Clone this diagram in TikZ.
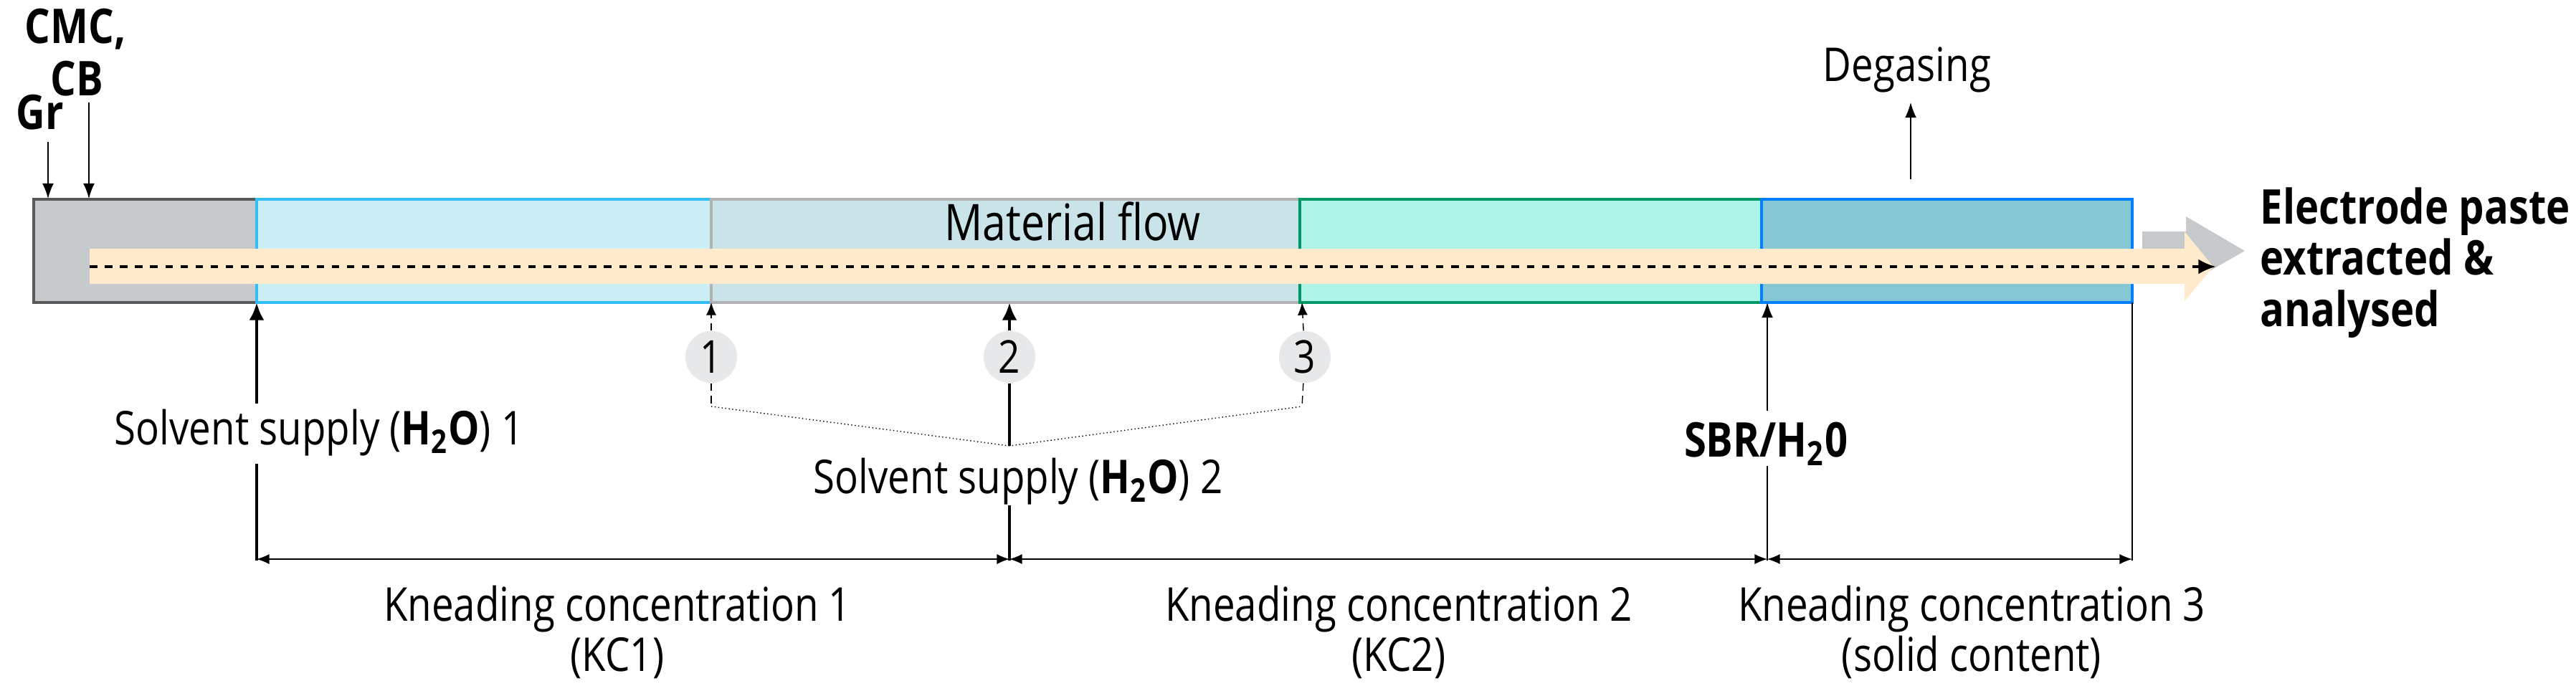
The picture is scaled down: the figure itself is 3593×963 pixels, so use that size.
\documentclass[tikz,border=0pt]{standalone}
\usepackage{fontspec}
\setmainfont{Open Sans}[FakeStretch=0.84]
\usetikzlibrary{arrows.meta,positioning}
\definecolor{feedgray}{HTML}{C6CACD}
\definecolor{kcone}{HTML}{CBEFF5}
\definecolor{kcmid}{HTML}{C9E3E8}
\definecolor{kctwo}{HTML}{AEF4E9}
\definecolor{kcthree}{HTML}{84C6D4}
\definecolor{paste}{HTML}{FFEBCC}
\definecolor{badge}{HTML}{E6E8EA}
\tikzset{
  zone/.style={draw=#1, line width=1.2pt},
  lbl/.style={font=\fontsize{18.5}{19.7}\selectfont, inner sep=0pt},
  blbl/.style={font=\bfseries\fontsize{19}{20.3}\selectfont, inner sep=0pt},
  num/.style={circle, fill=badge, minimum size=0.72cm, inner sep=0pt, font=\fontsize{18}{20}\selectfont},
  feed/.style={-{Latex[length=6pt,width=4.5pt]}, thin},
  bigfeed/.style={-{Latex[length=7pt,width=6pt]}, line width=1.4pt},
  dim/.style={{Latex[length=5pt,width=4pt]}-{Latex[length=5pt,width=4pt]}, thin},
}
\begin{document}
\begin{tikzpicture}[x=0.01cm, y=-0.01cm]
  \useasboundingbox (0,0) rectangle (3593,963);
  % extruder zones
  \fill[feedgray] (47,278) rectangle (358,422);
  \draw[zone=gray!70!black] (358,278) -| (47,422) -- (358,422);
  \filldraw[fill=kcone, zone=cyan!80] (358,278) rectangle (992,422);
  \filldraw[fill=kcmid, zone=gray!60] (992,278) rectangle (1813,422);
  \filldraw[fill=kctwo, zone=teal!80!green] (1813,278) rectangle (2457,422);
  \filldraw[fill=kcthree, zone=blue!50!cyan] (2457,278) rectangle (2974,422);
  \node[font=\fontsize{20}{22}\selectfont, anchor=base, inner sep=0pt] (flow) at (1496,335) {Material flow};
  % outlet arrows
  \fill[feedgray] (2988,323) -- (3049,323) -- (3049,302) -- (3131,350) -- (3049,397) -- (3049,374) -- (2988,374) -- cycle;
  \fill[paste] (125,347) -- (3047,347) -- (3047,323) -- (3087,372) -- (3047,420) -- (3047,396) -- (125,396) -- cycle;
  \coordinate (flowstart) at (125,372);
  \coordinate (flowend) at (3091,372);
  \draw[dashed, line width=1.3pt, -{Latex[length=7pt,width=6pt]}] (flowstart) -- (flowend);
  \node[blbl, anchor=base west, align=left] (out) at (3152,455) {Electrode paste\\extracted \&\\analysed};
  % solid feed
  \node[blbl, anchor=base west] (cmc) at (34,60) {CMC,};
  \node[blbl, anchor=base] (cb) at (107,133) {CB};
  \node[blbl, anchor=base west] (gr) at (22,180) {Gr};
  \coordinate (grin) at (67,277);
  \coordinate (cbin) at (124,277);
  \draw[feed] (67,198) -- (grin);
  \draw[feed] (124,143) -- (cbin);
  % degasing
  \node[lbl, anchor=base] (degas) at (2660,113) {Degasing};
  \coordinate (vent) at (2665,250);
  \draw[feed] (vent) -- (2665,143);
  % solvent supply 1
  \coordinate (s1top) at (358,422);
  \coordinate (s1bot) at (358,782);
  \node[lbl, anchor=base west] (sup1) at (159,620) {Solvent supply (\textbf{H\textsubscript{2}O}) 1};
  \draw[bigfeed] (358,563) -- (s1top);
  \draw[line width=1.4pt] (358,647) -- (s1bot);
  % dosing positions
  \node[num] (p1) at (992,498) {1};
  \node[num] (p2) at (1408,498) {2};
  \node[num] (p3) at (1820,498) {3};
  \coordinate (join) at (1408,622);
  \draw[densely dashed, thin, -{Latex[length=5pt,width=4pt]}] (p1) -- (992,422);
  \draw[densely dashed, thin, -{Latex[length=5pt,width=4pt]}] (p3) -- (1816,422);
  \draw[bigfeed] (p2) -- (1408,422);
  \draw[densely dashed, thin] (p1) -- (992,567);
  \draw[densely dashed, thin] (p3) -- (1816,567);
  \draw[densely dotted, thin] (992,567) -- (join) -- (1816,567);
  \draw[line width=1.4pt] (p2) -- (join);
  \node[lbl, anchor=base] (sup2) at (1420,688) {Solvent supply (\textbf{H\textsubscript{2}O}) 2};
  \draw[line width=1.4pt] (1408,705) -- (1408,782);
  % binder
  \node[blbl, anchor=base] (sbr) at (2463,637) {SBR/H\textsubscript{2}0};
  \coordinate (sbrin) at (2465,422);
  \draw[feed] (2465,573) -- (sbrin);
  \draw[thin] (2465,650) -- (2465,782);
  \draw[thin] (2974,422) -- (2974,782);
  % kneading concentrations
  \coordinate (d0) at (358,780);
  \coordinate (d1) at (1408,780);
  \coordinate (d2) at (2465,780);
  \coordinate (d3) at (2974,780);
  \draw[dim] (d0) -- (d1);
  \draw[dim] (d1) -- (d2);
  \draw[dim] (d2) -- (d3);
  \node[lbl, align=center, anchor=base] (kc1) at (861,936) {Kneading concentration 1\\(KC1)};
  \node[lbl, align=center, anchor=base] (kc2) at (1951,936) {Kneading concentration 2\\(KC2)};
  \node[lbl, align=center, anchor=base] (kc3) at (2750,936) {Kneading concentration 3\\(solid content)};
\end{tikzpicture}
\end{document}
